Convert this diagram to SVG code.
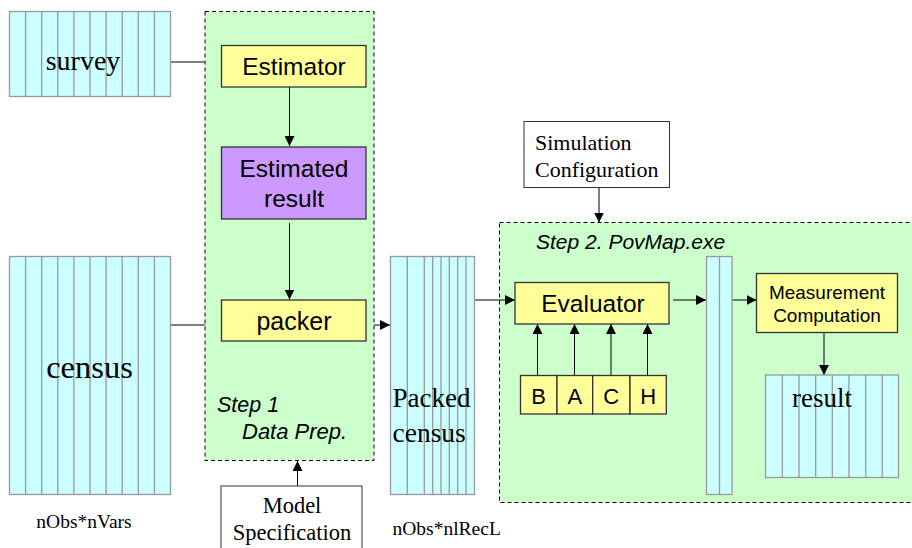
<svg xmlns="http://www.w3.org/2000/svg" width="912" height="548" viewBox="0 0 912 548">
<defs>
<marker id="ah" viewBox="0 0 10 10" refX="10" refY="5" markerWidth="10" markerHeight="10" markerUnits="userSpaceOnUse" orient="auto"><path d="M0,0 L10,5 L0,10 z" fill="#000"/></marker>
<style>
.tbl{fill:#CCFFFF;stroke:#999;stroke-width:1.3}
.col{stroke:#999;stroke-width:1.3;fill:none}
.step{fill:#CCFFCC;stroke:#000;stroke-width:1;stroke-dasharray:4,3}
.proc{fill:#FFFF99;stroke:#333;stroke-width:1.3}
.res{fill:#CC99FF;stroke:#333;stroke-width:1.3}
.cfg{fill:#fff;stroke:#333;stroke-width:1}
.sans{font-family:"Liberation Sans",Arial,sans-serif;fill:#000}
.serif{font-family:"Liberation Serif","Times New Roman",serif;fill:#000}
.it{font-family:"Liberation Sans",Arial,sans-serif;font-style:italic;fill:#000}
.ln{stroke:#000;stroke-width:1;fill:none}
.gl{stroke:#555;stroke-width:1.3;fill:none}
</style>
</defs>
<rect width="912" height="548" fill="#fff"/>

<g id="step1">
<rect class="step" x="205" y="11.5" width="169" height="449"/>
<text class="it" x="217" y="412" font-size="21.5">Step 1</text>
<text class="it" x="242" y="439" font-size="22">Data Prep.</text>
</g>
<g id="step2">
<rect class="step" x="499.5" y="222.5" width="440" height="280"/>
<text class="it" x="536" y="249" font-size="21">Step 2. PovMap.exe</text>
</g>

<g id="connectors">
<line class="gl" x1="170.5" y1="62" x2="205" y2="62"/>
<line class="gl" x1="170.5" y1="325" x2="205" y2="325"/>
<line class="ln" x1="289.5" y1="87" x2="289.5" y2="146" marker-end="url(#ah)"/>
<line class="ln" x1="289.5" y1="223" x2="289.5" y2="299.5" marker-end="url(#ah)"/>
<line class="ln" x1="374" y1="325" x2="390" y2="325" marker-end="url(#ah)"/>
<line class="ln" x1="297.5" y1="486" x2="297.5" y2="461" marker-end="url(#ah)"/>
<line class="ln" x1="474.5" y1="300" x2="515" y2="300" marker-end="url(#ah)"/>
<line class="ln" x1="599" y1="188" x2="599" y2="222.5" marker-end="url(#ah)"/>
<line class="ln" x1="673" y1="300" x2="706" y2="300" marker-end="url(#ah)"/>
<line class="ln" x1="732" y1="300" x2="756.5" y2="300" marker-end="url(#ah)"/>
<line class="ln" x1="824" y1="332.5" x2="824" y2="375" marker-end="url(#ah)"/>
<line class="ln" x1="537.5" y1="375.5" x2="537.5" y2="324" marker-end="url(#ah)"/>
<line class="ln" x1="574.5" y1="375.5" x2="574.5" y2="324" marker-end="url(#ah)"/>
<line class="ln" x1="611" y1="375.5" x2="611" y2="324" marker-end="url(#ah)"/>
<line class="ln" x1="647.5" y1="375.5" x2="647.5" y2="324" marker-end="url(#ah)"/>
</g>

<g id="survey">
<rect class="tbl" x="9.5" y="11.5" width="161" height="85"/>
<path class="col" d="M25.6,11.5V96.5M41.7,11.5V96.5M57.8,11.5V96.5M73.9,11.5V96.5M90,11.5V96.5M106.1,11.5V96.5M122.2,11.5V96.5M138.3,11.5V96.5M154.4,11.5V96.5"/>
<text class="serif" x="83" y="70" font-size="28" text-anchor="middle">survey</text>
</g>

<g id="census">
<rect class="tbl" x="9.5" y="256.5" width="161" height="238"/>
<path class="col" d="M25.6,256.5V494.5M41.7,256.5V494.5M57.8,256.5V494.5M73.9,256.5V494.5M90,256.5V494.5M106.1,256.5V494.5M122.2,256.5V494.5M138.3,256.5V494.5M154.4,256.5V494.5"/>
<text class="serif" x="89.5" y="378" font-size="32.5" text-anchor="middle">census</text>
</g>
<text id="nobs-nvars" class="serif" x="84" y="528" font-size="19.5" text-anchor="middle">nObs*nVars</text>

<g id="estimator">
<rect class="proc" x="221.5" y="45.5" width="144.5" height="41.5"/>
<text class="sans" x="294" y="75" font-size="24.5" text-anchor="middle">Estimator</text>
</g>
<g id="estimated-result">
<rect class="res" x="221.5" y="147" width="144.5" height="72"/>
<text class="sans" x="294" y="177" font-size="24.5" text-anchor="middle">Estimated</text>
<text class="sans" x="294" y="207" font-size="24.5" text-anchor="middle">result</text>
</g>
<g id="packer">
<rect class="proc" x="221.5" y="300" width="144.5" height="41"/>
<text class="sans" x="294" y="330" font-size="25" text-anchor="middle">packer</text>
</g>

<g id="model-spec">
<rect class="cfg" x="221" y="486" width="141" height="70"/>
<text class="serif" x="292" y="513" font-size="22.5" text-anchor="middle">Model</text>
<text class="serif" x="292" y="540" font-size="22.5" text-anchor="middle">Specification</text>
</g>

<g id="packed-census">
<rect class="tbl" x="390.5" y="256.5" width="84" height="238"/>
<path class="col" d="M407.3,256.5V494.5M424.3,256.5V494.5M432.7,256.5V494.5M441,256.5V494.5M449.3,256.5V494.5M457.7,256.5V494.5M466,256.5V494.5"/>
<text class="serif" x="392.5" y="407" font-size="27">Packed</text>
<text class="serif" x="392.5" y="442" font-size="27.5">census</text>
</g>
<text id="nobs-nlrecl" class="serif" x="392.5" y="535" font-size="19.5">nObs*nlRecL</text>

<g id="sim-config">
<rect class="cfg" x="524" y="121.5" width="145.5" height="66"/>
<text class="serif" x="535" y="150" font-size="22">Simulation</text>
<text class="serif" x="535" y="177" font-size="22">Configuration</text>
</g>

<g id="evaluator">
<rect class="proc" x="515" y="282.5" width="154" height="41.5"/>
<text class="sans" x="593" y="312" font-size="24.5" text-anchor="middle">Evaluator</text>
</g>

<g id="bach">
<rect class="proc" x="520.5" y="375.5" width="36.5" height="38.5"/>
<rect class="proc" x="557" y="375.5" width="35.7" height="38.5"/>
<rect class="proc" x="592.7" y="375.5" width="37.3" height="38.5"/>
<rect class="proc" x="630" y="375.5" width="36.3" height="38.5"/>
<text class="sans" x="538.7" y="403.5" font-size="22" text-anchor="middle">B</text>
<text class="sans" x="574.8" y="403.5" font-size="22" text-anchor="middle">A</text>
<text class="sans" x="611.3" y="403.5" font-size="22" text-anchor="middle">C</text>
<text class="sans" x="648.2" y="403.5" font-size="22" text-anchor="middle">H</text>
</g>

<g id="intermediate">
<rect class="tbl" x="706.5" y="256.5" width="25.5" height="238"/>
<path class="col" d="M719.5,256.5V494.5"/>
</g>

<g id="measurement">
<rect class="proc" x="756.5" y="273.5" width="141" height="59"/>
<text class="sans" x="827" y="299" font-size="19" text-anchor="middle">Measurement</text>
<text class="sans" x="827" y="322" font-size="19" text-anchor="middle">Computation</text>
</g>

<g id="result">
<rect class="tbl" x="765.5" y="375" width="133" height="102.5"/>
<path class="col" d="M782.3,375V477.5M799,375V477.5M815.7,375V477.5M832.3,375V477.5M849,375V477.5M865.7,375V477.5M882.3,375V477.5"/>
<text class="serif" x="822" y="407" font-size="27" text-anchor="middle">result</text>
</g>
</svg>
